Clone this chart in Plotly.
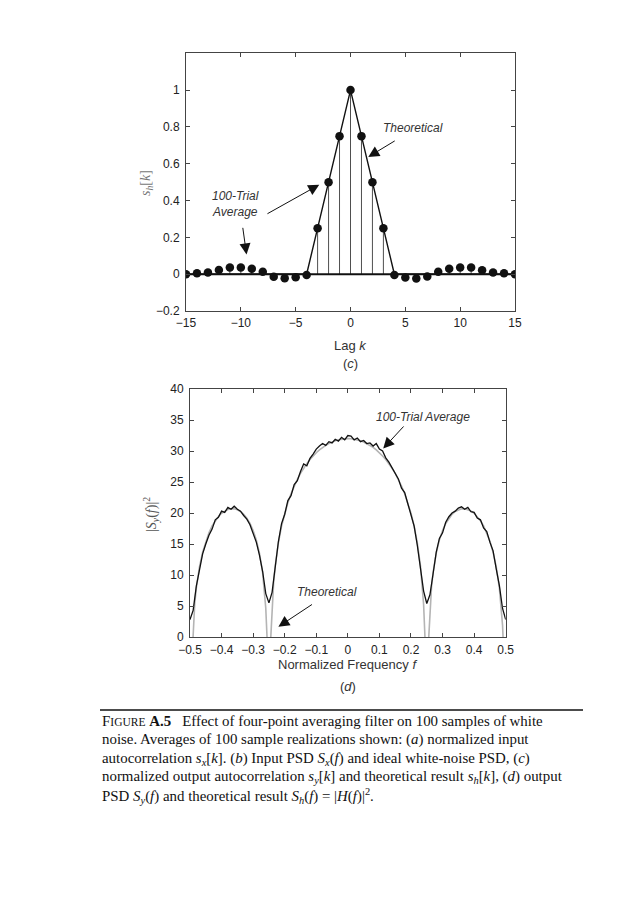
import plotly.graph_objects as go

# ---------------- data: panel (c) ----------------
lags = list(range(-15, 16))
avg_autocorr = [0.0, 0.005, 0.009, 0.023, 0.036, 0.036, 0.030, 0.013, -0.014, -0.022, -0.016,
                -0.005, 0.25, 0.50, 0.75, 1.0, 0.75, 0.50, 0.25, -0.005,
                -0.018, -0.023, -0.013, 0.013, 0.030, 0.036, 0.036, 0.022, 0.009, 0.005, 0.0]
theo_lag = [-15, -4, 0, 4, 15]
theo_autocorr = [0.0, 0.0, 1.0, 0.0, 0.0]

# ---------------- data: panel (d) ----------------
theo_f = [-0.5, -0.495, -0.49, -0.485, -0.48, -0.47, -0.46, -0.45, -0.44, -0.43, -0.42, -0.41, -0.40,
          -0.39, -0.38, -0.37, -0.36, -0.35, -0.34, -0.33, -0.32, -0.31, -0.30, -0.29, -0.28,
          -0.27, -0.265, -0.26, -0.255, -0.25, -0.245, -0.24, -0.235, -0.23, -0.22, -0.21, -0.20,
          -0.19, -0.18, -0.17, -0.16, -0.15, -0.14, -0.13, -0.12, -0.11, -0.10, -0.09, -0.08,
          -0.07, -0.06, -0.05, -0.04, -0.03, -0.02, -0.01, 0.0,
          0.01, 0.02, 0.03, 0.04, 0.05, 0.06, 0.07, 0.08, 0.09, 0.10, 0.11, 0.12, 0.13, 0.14,
          0.15, 0.16, 0.17, 0.18, 0.19, 0.20, 0.21, 0.22, 0.23, 0.235, 0.24, 0.245, 0.25, 0.255,
          0.26, 0.265, 0.27, 0.28, 0.29, 0.30, 0.31, 0.32, 0.33, 0.34, 0.35, 0.36, 0.37, 0.38,
          0.39, 0.40, 0.41, 0.42, 0.43, 0.44, 0.45, 0.46, 0.47, 0.48, 0.485, 0.49, 0.495, 0.5]
theo_psd = [-10, -4.0, 1.92, 5.42, 7.89, 11.32, 13.68, 15.45, 16.82, 17.91, 18.77, 19.44, 19.96,
            20.33, 20.57, 20.69, 20.67, 20.52, 20.24, 19.79, 19.16, 18.32, 17.18, 15.66, 13.54,
            10.37, 8.03, 4.66, -1.2, -10, -0.93, 5.21, 8.85, 11.46, 15.19, 17.87, 19.96,
            21.67, 23.11, 24.35, 25.43, 26.38, 27.22, 27.96, 28.62, 29.20, 29.72, 30.18, 30.58,
            30.92, 31.21, 31.46, 31.66, 31.81, 31.91, 31.98, 32.0,
            31.98, 31.91, 31.81, 31.66, 31.46, 31.21, 30.92, 30.58, 30.18, 29.72, 29.20, 28.62, 27.96, 27.22,
            26.38, 25.43, 24.35, 23.11, 21.67, 19.96, 17.87, 15.19, 11.46, 8.85, 5.21, -0.93, -10, -1.2,
            4.66, 8.03, 10.37, 13.54, 15.66, 17.18, 18.32, 19.16, 19.79, 20.24, 20.52, 20.67, 20.69, 20.57,
            20.33, 19.96, 19.44, 18.77, 17.91, 16.82, 15.45, 13.68, 11.32, 7.89, 5.42, 1.92, -4.0, -10]

avg_f = [round(-0.5 + 0.01 * i, 2) for i in range(101)]
avg_psd = [2.8, 4.3, 8.2, 11.0, 13.4, 15.0, 16.4, 17.4, 18.9, 19.3, 20.3,
           20.1, 20.9, 20.6, 21.1, 20.6, 20.3, 19.6, 19.0, 18.1, 16.7,
           15.3, 13.2, 10.6, 7.0, 5.5, 7.2, 11.6, 15.4, 18.3, 19.8,
           22.0, 22.8, 24.6, 25.2, 26.7, 27.9, 27.6, 28.8, 29.5, 30.3,
           30.8, 31.2, 30.9, 31.5, 31.3, 31.9, 31.6, 32.2, 31.8, 32.5,
           32.4, 31.8, 32.1, 31.5, 31.7, 31.2, 31.3, 30.8, 31.2, 30.3,
           30.0, 28.9, 28.2, 27.3, 26.2, 25.5, 24.0, 23.3, 21.5, 19.7,
           17.9, 14.8, 11.2, 7.4, 5.4, 6.8, 10.2, 13.7, 15.9, 16.8,
           18.5, 19.4, 20.0, 20.3, 20.8, 21.0, 20.6, 20.9, 20.2, 20.1,
           19.2, 18.9, 17.6, 17.0, 15.3, 13.9, 11.0, 8.3, 4.6, 2.8]

top_xticks = [-15, -10, -5, 0, 5, 10, 15]
top_xtext = ["\u221215", "\u221210", "\u22125", "0", "5", "10", "15"]
top_yticks = [-0.2, 0, 0.2, 0.4, 0.6, 0.8, 1]
top_ytext = ["\u22120.2", "0", "0.2", "0.4", "0.6", "0.8", "1"]
bot_xticks = [-0.5, -0.4, -0.3, -0.2, -0.1, 0, 0.1, 0.2, 0.3, 0.4, 0.5]
bot_xtext = ["\u22120.5", "\u22120.4", "\u22120.3", "\u22120.2", "\u22120.1", "0", "0.1", "0.2", "0.3", "0.4", "0.5"]
bot_yticks = [0, 5, 10, 15, 20, 25, 30, 35, 40]

caption_lines = [
    "F<span style='font-size:11.5px'>IGURE</span> <b>A.5</b>   Effect of four-point averaging filter on 100 samples of white",
    "noise. Averages of 100 sample realizations shown: (<i>a</i>) normalized input",
    "autocorrelation <i>s</i><sub><i>x</i></sub>[<i>k</i>]. (<i>b</i>) Input PSD <i>S</i><sub><i>x</i></sub>(<i>f</i>) and ideal white-noise PSD, (<i>c</i>)",
    "normalized output autocorrelation <i>s</i><sub><i>y</i></sub>[<i>k</i>] and theoretical result <i>s</i><sub><i>h</i></sub>[<i>k</i>], (<i>d</i>) output",
    "PSD <i>S</i><sub><i>y</i></sub>(<i>f</i>) and theoretical result <i>S</i><sub><i>h</i></sub>(<i>f</i>) = |<i>H</i>(<i>f</i>)|<sup>2</sup>.",
]

W, H = 636, 900
def px(x):
    return x / W
def py(y):
    return 1 - y / H

# ---------------- figure ----------------
fig = go.Figure()

# stems for panel (c)
stem_x, stem_y = [], []
for k, v in zip(lags, avg_autocorr):
    stem_x += [k, k, None]
    stem_y += [0, v, None]
fig.add_trace(go.Scatter(x=stem_x, y=stem_y, mode="lines", line=dict(color="#222", width=0.8),
                         xaxis="x", yaxis="y", showlegend=False, hoverinfo="skip"))
fig.add_trace(go.Scatter(x=theo_lag, y=theo_autocorr, mode="lines", line=dict(color="#111", width=1.4),
                         xaxis="x", yaxis="y", showlegend=False))
fig.add_trace(go.Scatter(x=[lags[0], lags[-1]], y=[0, 0], mode="lines", line=dict(color="#111", width=2),
                         xaxis="x", yaxis="y", showlegend=False, hoverinfo="skip"))
fig.add_trace(go.Scatter(x=lags, y=avg_autocorr, mode="markers",
                         marker=dict(color="#111", size=8.5, line=dict(width=0)),
                         xaxis="x", yaxis="y", showlegend=False))

# panel (d)
fig.add_trace(go.Scatter(x=theo_f, y=theo_psd, mode="lines", line=dict(color="#b4b4b4", width=1.6),
                         xaxis="x2", yaxis="y2", showlegend=False))
fig.add_trace(go.Scatter(x=avg_f, y=avg_psd, mode="lines", line=dict(color="#111", width=1.3),
                         xaxis="x2", yaxis="y2", showlegend=False))

tickfont = dict(family="Liberation Sans, Arial, sans-serif", size=12, color="#222")
axis_common = dict(showline=True, linecolor="#444", linewidth=1, mirror="ticks", ticks="inside",
                   ticklen=4, tickcolor="#444", showgrid=False, zeroline=False, tickfont=tickfont)

fig.update_layout(
    width=W, height=H, margin=dict(l=0, r=0, t=0, b=0, autoexpand=False),
    paper_bgcolor="white", plot_bgcolor="white",
    xaxis=dict(domain=[px(186), px(515)], range=[-15, 15], tickvals=top_xticks, ticktext=top_xtext,
               anchor="y", ticklabelstandoff=1, **axis_common),
    yaxis=dict(domain=[py(311), py(53.3)], range=[-0.2, 1.2], tickvals=top_yticks, ticktext=top_ytext,
               anchor="x", ticklabelstandoff=3, **axis_common),
    xaxis2=dict(domain=[px(190), px(505.7)], range=[-0.5, 0.5], tickvals=bot_xticks, ticktext=bot_xtext,
                anchor="y2", ticklabelstandoff=2, **axis_common),
    yaxis2=dict(domain=[py(637), py(389)], range=[0, 40], tickvals=bot_yticks,
                anchor="x2", ticklabelstandoff=3, **axis_common),
)

ann = []
lblfont = dict(family="Liberation Sans, Arial, sans-serif", size=13, color="#333")
ital = dict(family="Liberation Sans, Arial, sans-serif", size=12, color="#333")

# text labels (paper coords)
def text(x, y, s, font, angle=0, xanchor="center"):
    ann.append(dict(x=px(x), y=py(y), xref="paper", yref="paper", text=s, showarrow=False,
                    font=font, textangle=angle, xanchor=xanchor, yanchor="middle"))

text(350, 345, "Lag <i>k</i>", lblfont)
text(350, 363, "(<i>c</i>)", lblfont)
text(347, 664, "Normalized Frequency <i>f</i>", lblfont)
text(348, 686, "(<i>d</i>)", lblfont)
text(146, 183, "<i>s</i><sub><i>h</i></sub>[<i>k</i>]",
     dict(family="Liberation Serif, Times New Roman, serif", size=14, color="#777"), angle=-90)
text(151, 515, "|<i>S</i><sub><i>y</i></sub>(<i>f</i>)|<sup>2</sup>",
     dict(family="Liberation Serif, Times New Roman, serif", size=14, color="#555"), angle=-90)

text(413, 128, "<i>Theoretical</i>", ital)
text(236, 204, "<i>100-Trial</i><br><i>Average</i>", ital)
text(423, 417, "<i>100-Trial Average</i>", ital)
text(327, 592, "<i>Theoretical</i>", ital)

# arrows (data coords)
def arrow(xr, yr, hx, hy, tx, ty):
    ann.append(dict(x=hx, y=hy, ax=tx, ay=ty, xref=xr, yref=yr, axref=xr, ayref=yr, text="",
                    showarrow=True, arrowhead=2, arrowsize=2.2, arrowwidth=1, arrowcolor="#111",
                    standoff=0))

arrow("x", "y", 1.62, 0.637, 4.17, 0.729)
arrow("x", "y", -2.85, 0.486, -7.71, 0.324)
arrow("x", "y", -9.48, 0.107, -9.84, 0.26)
arrow("x2", "y2", 0.112, 30.4, 0.181, 34.2)
arrow("x2", "y2", -0.220, 1.66, -0.109, 5.4)

# caption
capfont = dict(family="Liberation Serif, Times New Roman, serif", size=14.9, color="#111")
for i, line in enumerate(caption_lines):
    text(100, 721 + i * 18.8, line, capfont, xanchor="left")

fig.update_layout(annotations=ann)
fig.add_shape(type="line", xref="paper", yref="paper", x0=px(100), x1=px(583), y0=py(710), y1=py(710),
              line=dict(color="#111", width=1.5))

fig.write_html("out.html", config={"displayModeBar": False},
               post_script="document.body.style.margin='0px';document.body.style.overflow='hidden';")
